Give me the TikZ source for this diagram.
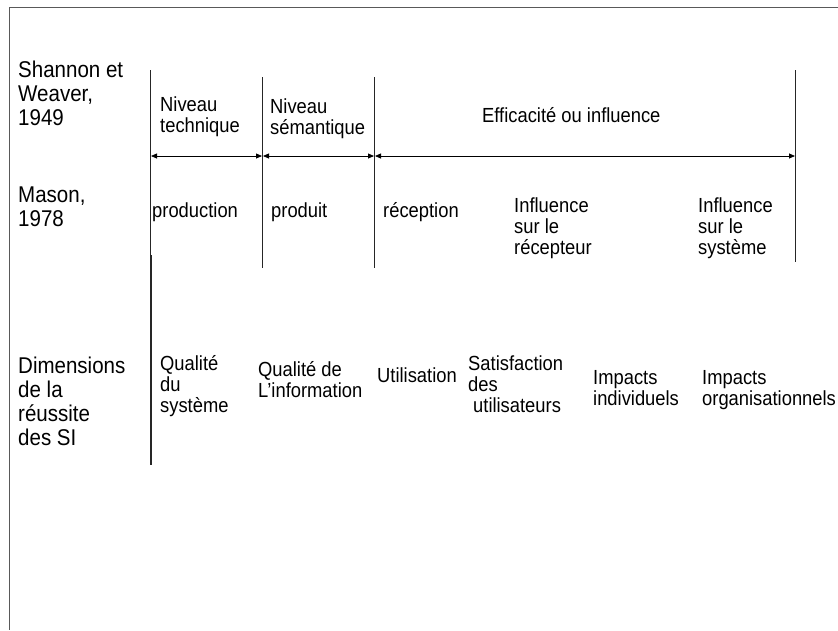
\documentclass[tikz,border=0pt]{standalone}
\usepackage{fontspec}
\setmainfont{Liberation Sans}[FakeStretch=0.9]
\usetikzlibrary{arrows.meta}
\begin{document}
\begin{tikzpicture}[x=1pt,y=-1pt,
  % multi-line nodes are placed by the baseline of their last line
  rowlabel/.style={anchor=base west, inner sep=0pt, align=left,
    font=\fontsize{22.8}{24}\selectfont},
  cell/.style={anchor=base west, inner sep=0pt, align=left,
    font=\fontsize{20.4}{21}\selectfont},
  divider/.style={draw=black!85, line width=0.8pt},
  spanarrow/.style={black, line width=0.8pt,
    {Triangle[length=6pt,width=5pt]}-{Triangle[length=6pt,width=5pt]}},
  framel/.style={draw=black!65, line width=0.8pt}]
\useasboundingbox (0,0) rectangle (838,630);

% outer frame (top and left edges)
\coordinate (fr) at (838,7);
\coordinate (fc) at (9,7);
\coordinate (fb) at (9,630);
\draw[framel] (fr) -- (fc) -- (fb);

% row headings
\node[rowlabel] (sw)  at (18,125) {Shannon et\\Weaver,\\1949};
\node[rowlabel] (ma)  at (18,226) {Mason,\\1978};
\node[rowlabel] (dim) at (18,445) {Dimensions\\de la\\réussite\\des SI};

% column dividers
\coordinate (d1t) at (150,70);  \coordinate (d1b) at (150,268);
\coordinate (d2t) at (151,255); \coordinate (d2b) at (151,465);
\coordinate (d3t) at (262,77);  \coordinate (d3b) at (262,268);
\coordinate (d4t) at (374,77);  \coordinate (d4b) at (374,268);
\coordinate (d5t) at (795,70);  \coordinate (d5b) at (795,262);
\draw[divider] (d1t) -- (d1b);
\draw[divider, line width=1.5pt] (d2t) -- (d2b);
\draw[divider] (d3t) -- (d3b);
\draw[divider] (d4t) -- (d4b);
\draw[divider] (d5t) -- (d5b);

% Shannon and Weaver levels
\node[cell] (tech) at (160,132) {Niveau\\technique};
\node[cell] (sem)  at (270,134) {Niveau\\sémantique};
\node[cell] (eff)  at (482,122) {Efficacité ou influence};

\coordinate (a1) at (151,156); \coordinate (a2) at (262,156);
\coordinate (b1) at (263,156); \coordinate (b2) at (374,156);
\coordinate (c1) at (375,156); \coordinate (c2) at (795,156);
\draw[spanarrow] (a1) -- (a2);
\draw[spanarrow] (b1) -- (b2);
\draw[spanarrow] (c1) -- (c2);

% Mason levels
\node[cell] (prod)  at (152,217) {production};
\node[cell] (prd)   at (271,217) {produit};
\node[cell] (rec)   at (383,217) {réception};
\node[cell] (infr)  at (514,254) {Influence\\sur le\\récepteur};
\node[cell] (infs)  at (698,254) {Influence\\sur le\\système};

% IS success dimensions
\node[cell] (qs)  at (160,412) {Qualité\\du\\système};
\node[cell] (qi)  at (258,397) {Qualité de\\L’information};
\node[cell] (ut)  at (377,382) {Utilisation};
\node[cell] (sat) at (468,412) {Satisfaction\\des\\\hspace{5pt}utilisateurs};
\node[cell] (ii)  at (593,405) {Impacts\\individuels};
\node[cell] (io)  at (702,405) {Impacts\\organisationnels};
\end{tikzpicture}
\end{document}
